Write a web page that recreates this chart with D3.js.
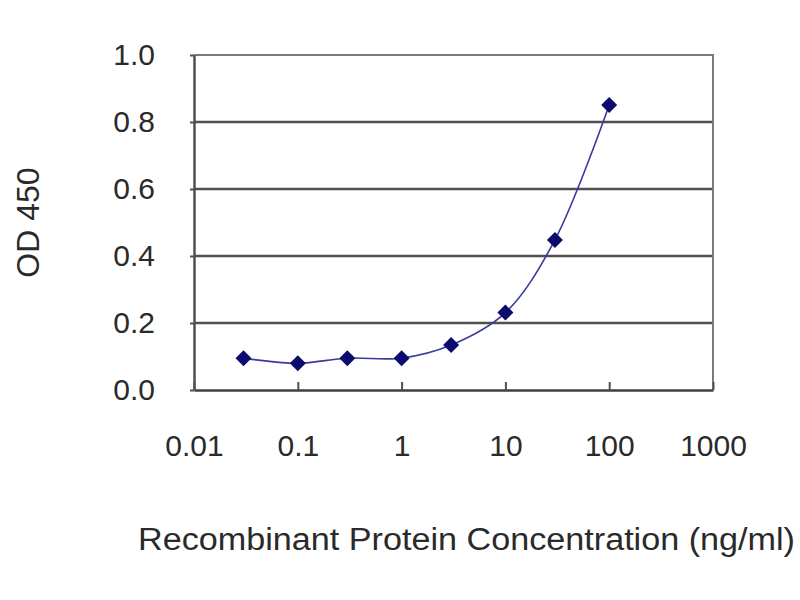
<!DOCTYPE html>
<html>
<head>
<meta charset="utf-8">
<script src="https://cdn.jsdelivr.net/npm/d3@7"></script>
<style>
  body { margin: 0; background: #fff; }
  text { font-family: "Liberation Sans", Arial, sans-serif; fill: #2a2a2a; }
</style>
</head>
<body>
<div id="chart"></div>
<script>
// concentration (ng/ml) and OD 450
const concentrations = [0.03, 0.1, 0.3, 1, 3, 10, 30, 100]
const odValues = [0.095, 0.08, 0.095, 0.095, 0.134, 0.231, 0.448, 0.851]
const xTicks = [0.01, 0.1, 1, 10, 100, 1000]
const xTickLabels = ["0.01", "0.1", "1", "10", "100", "1000"]
const yTicks = [0, 0.2, 0.4, 0.6, 0.8, 1.0]

const width = 800
const height = 600
const margin = { left: 194, right: 87, top: 55, bottom: 210 }

const svg = d3.select("#chart")
    .append("svg")
    .attr("width", width)
    .attr("height", height)

const xScale = d3.scaleLog()
    .domain([0.01, 1000])
    .range([margin.left, width - margin.right])

const yScale = d3.scaleLinear()
    .domain([0, 1])
    .range([height - margin.bottom, margin.top])

// gridlines
svg.append("g")
    .selectAll("line")
    .data(yTicks.filter(d => d > 0 && d < 1))
    .enter()
    .append("line")
    .attr("x1", xScale.range()[0])
    .attr("x2", xScale.range()[1])
    .attr("y1", d => yScale(d))
    .attr("y2", d => yScale(d))
    .attr("stroke", "#505050")
    .attr("stroke-width", 2.5)

// top and right border
svg.append("path")
    .attr("d", `M${xScale.range()[0]},${yScale(1)}H${xScale.range()[1]}V${yScale(0)}`)
    .attr("fill", "none")
    .attr("stroke", "#7a7a7a")
    .attr("stroke-width", 2)

// y-axis
const leftAxis = d3.axisLeft(yScale)
    .tickValues(yTicks)
    .tickFormat(d3.format(".1f"))
    .tickSize(4)
    .tickPadding(35)
    .tickSizeOuter(0)

const leftAxisGroup = svg.append("g")
    .attr("transform", `translate(${margin.left},0)`)
    .call(leftAxis)
leftAxisGroup.select(".domain").attr("stroke", "#505050").attr("stroke-width", 2.5)
leftAxisGroup.selectAll(".tick line").attr("stroke", "#505050").attr("stroke-width", 2)
leftAxisGroup.selectAll(".tick text")
    .attr("font-size", 30)
    .attr("fill", "#2a2a2a")

// x-axis
const bottomAxis = d3.axisBottom(xScale)
    .tickValues(xTicks)
    .tickFormat((d, i) => xTickLabels[i])
    .tickSize(-8)
    .tickPadding(45)
    .tickSizeOuter(0)

const bottomAxisGroup = svg.append("g")
    .attr("transform", `translate(0,${yScale(0)})`)
    .call(bottomAxis)
bottomAxisGroup.select(".domain").attr("stroke", "#404040").attr("stroke-width", 2.5)
bottomAxisGroup.selectAll(".tick line").attr("stroke", "#505050").attr("stroke-width", 2)
bottomAxisGroup.selectAll(".tick text")
    .attr("font-size", 30)
    .attr("fill", "#2a2a2a")

// axis labels
svg.append("text")
    .attr("transform", `translate(39, ${yScale(0.5)}) rotate(-90)`)
    .attr("text-anchor", "middle")
    .attr("font-size", 32)
    .text("OD 450")

svg.append("text")
    .attr("x", 138)
    .attr("y", 550)
    .attr("font-size", 31)
    .attr("textLength", 657)
    .attr("lengthAdjust", "spacingAndGlyphs")
    .text("Recombinant Protein Concentration (ng/ml)")

// smoothed curve
const points = concentrations.map((c, i) => ({ x: c, y: odValues[i] }))

const line = d3.line()
    .x(d => xScale(d.x))
    .y(d => yScale(d.y))
    .curve(d3.curveCatmullRom)

svg.append("path")
    .datum(points)
    .attr("d", line)
    .attr("fill", "none")
    .attr("stroke", "#3a3a9e")
    .attr("stroke-width", 1.6)

// diamond markers
svg.append("g")
    .selectAll("path")
    .data(points)
    .enter()
    .append("path")
    .attr("transform", d => `translate(${xScale(d.x)},${yScale(d.y)})`)
    .attr("d", "M0,-8L8,0L0,8L-8,0Z")
    .attr("fill", "#0c0c6e")
</script>
</body>
</html>
